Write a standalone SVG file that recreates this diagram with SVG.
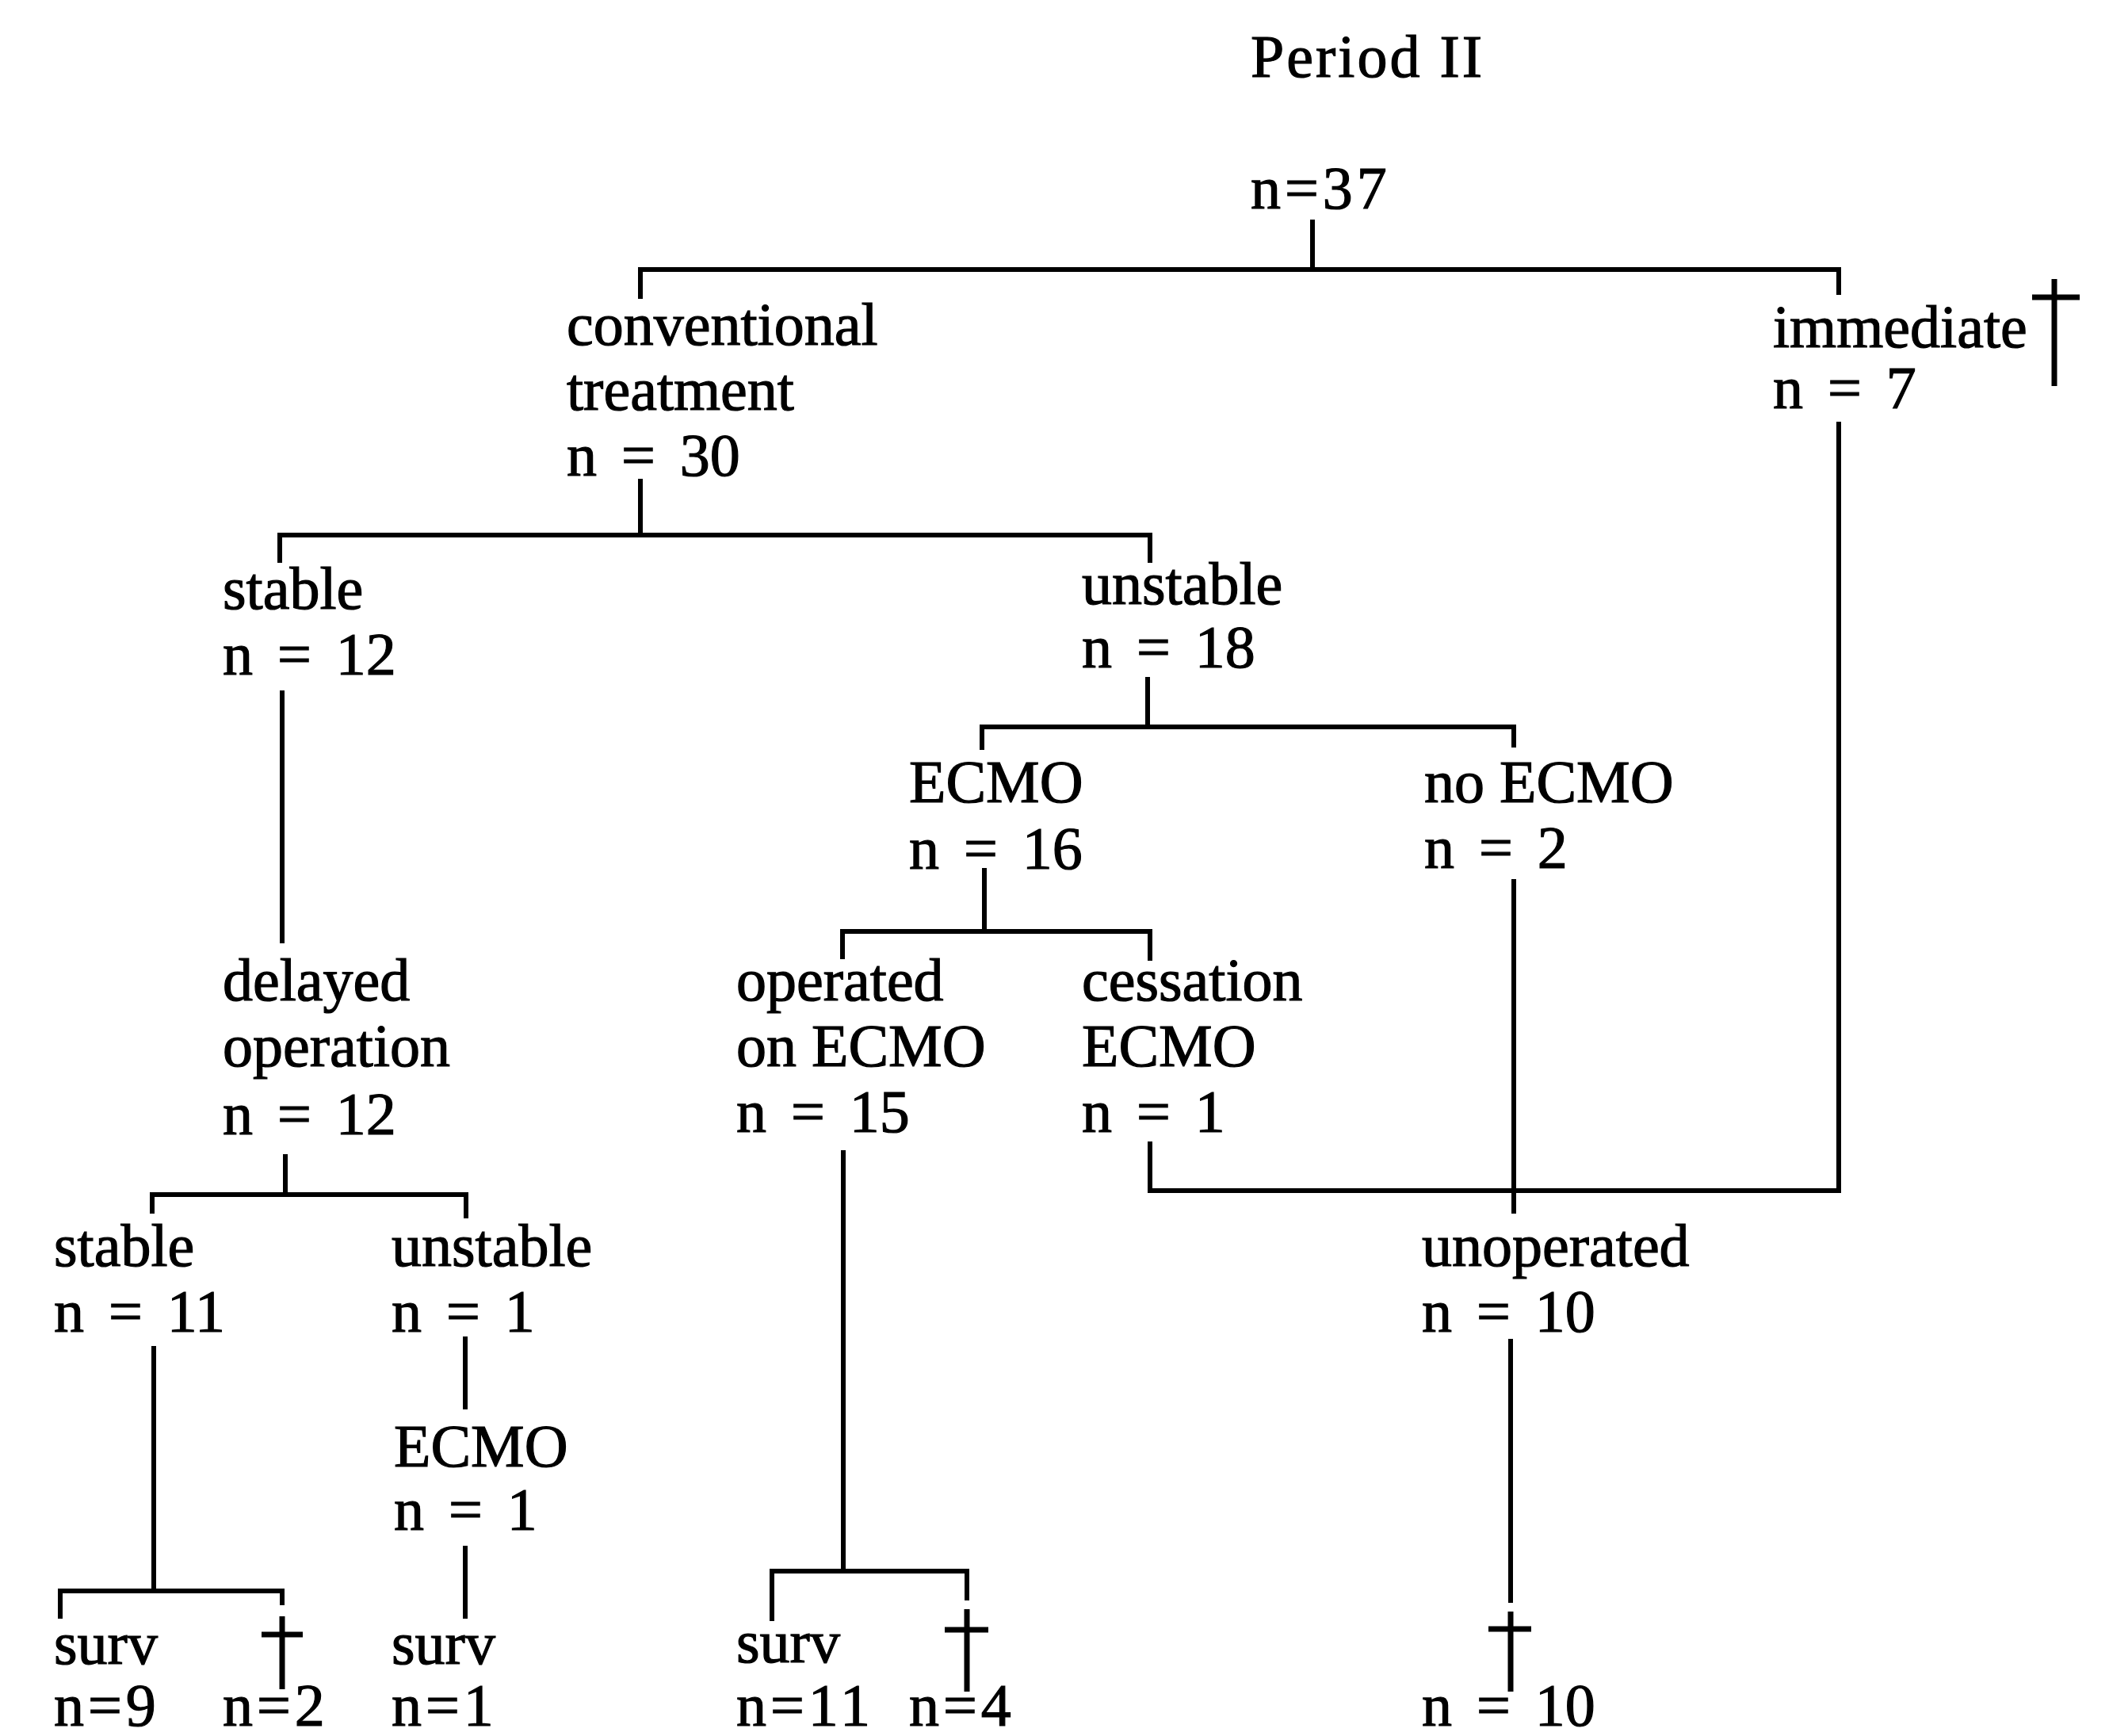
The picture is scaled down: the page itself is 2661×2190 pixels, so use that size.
<svg xmlns="http://www.w3.org/2000/svg" width="2661" height="2190" viewBox="0 0 2661 2190">
<style>
text{font-family:"Liberation Serif","Times New Roman",serif;font-size:76px;fill:#000;stroke:#000;stroke-width:1.2}
.w{word-spacing:12px}
.k{letter-spacing:5px}
.t{letter-spacing:3px}
.c{fill:none;stroke:#000;stroke-width:6;stroke-linecap:butt;stroke-linejoin:miter}
.d{fill:none;stroke:#000;stroke-width:7}
</style>
<rect width="2661" height="2190" fill="#fff"/>
<g id="title"><text class="t" x="1578" y="97">Period II</text></g>
<g id="connectors" class="c">
<path class="c" d="M1656,277 V340"/>
<path class="c" d="M808,377 V340 H2320 V372"/>
<path class="c" d="M808,604 V675"/>
<path class="c" d="M353,710 V675 H1451 V710"/>
<path class="c" d="M356,871 V1190"/>
<path class="c" d="M1448,854 V917"/>
<path class="c" d="M1239,946 V917 H1910 V943"/>
<path class="c" d="M1242,1095 V1175"/>
<path class="c" d="M1063,1210 V1175 H1451 V1212"/>
<path class="c" d="M360,1456 V1507"/>
<path class="c" d="M192,1531 V1507 H588 V1537"/>
<path class="c" d="M194,1698 V2007"/>
<path class="c" d="M76,2042 V2007 H356 V2025"/>
<path class="c" d="M587,1686 V1778"/>
<path class="c" d="M587,1950 V2042"/>
<path class="c" d="M1064,1451 V1982"/>
<path class="c" d="M974,2045 V1982 H1220 V2019"/>
<path class="c" d="M1451,1440 V1502 H2320 V532"/>
<path class="c" d="M1910,1109 V1531"/>
<path class="c" d="M1906,1689 V2022"/>
</g>
<g id="n37"><text class="k" x="1578" y="263">n=37</text></g>
<g id="conventional"><text x="715" y="435">conventional</text><text x="715" y="517">treatment</text><text class="w" x="715" y="600">n = 30</text></g>
<g id="immediate"><text x="2237" y="438">immediate</text><text class="w" x="2237" y="515">n = 7</text><path class="d" d="M2592,352 V487 M2564,375 H2624"/></g>
<g id="stable1"><text x="281" y="768">stable</text><text class="w" x="281" y="851">n = 12</text></g>
<g id="unstable1"><text x="1365" y="762">unstable</text><text class="w" x="1365" y="842">n = 18</text></g>
<g id="ecmo1"><text x="1147" y="1012">ECMO</text><text class="w" x="1147" y="1096">n = 16</text></g>
<g id="noecmo"><text x="1797" y="1012">no ECMO</text><text class="w" x="1797" y="1095">n = 2</text></g>
<g id="delayed"><text x="281" y="1262">delayed</text><text x="281" y="1345">operation</text><text class="w" x="281" y="1431">n = 12</text></g>
<g id="operated"><text x="929" y="1262">operated</text><text x="929" y="1345">on ECMO</text><text class="w" x="929" y="1428">n = 15</text></g>
<g id="cessation"><text x="1365" y="1262">cessation</text><text x="1365" y="1345">ECMO</text><text class="w" x="1365" y="1428">n = 1</text></g>
<g id="stable2"><text x="68" y="1597">stable</text><text class="w" x="68" y="1680">n = 11</text></g>
<g id="unstable2"><text x="494" y="1597">unstable</text><text class="w" x="494" y="1680">n = 1</text></g>
<g id="ecmo2"><text x="497" y="1850">ECMO</text><text class="w" x="497" y="1930">n = 1</text></g>
<g id="unoperated"><text x="1794" y="1597">unoperated</text><text class="w" x="1794" y="1680">n = 10</text></g>
<g id="surv1"><text x="68" y="2099">surv</text><text class="k" x="68" y="2177">n=9</text></g>
<g id="died1"><path class="d" d="M356,2039 V2131 M330,2062 H382"/><text class="k" x="281" y="2177">n=2</text></g>
<g id="surv2"><text x="494" y="2099">surv</text><text class="k" x="494" y="2177">n=1</text></g>
<g id="surv3"><text x="929" y="2097">surv</text><text class="k" x="929" y="2177">n=11</text></g>
<g id="died3"><path class="d" d="M1220,2030 V2134 M1192,2056 H1247"/><text class="k" x="1147" y="2177">n=4</text></g>
<g id="died4"><path class="d" d="M1906,2033 V2134 M1878,2055 H1932"/><text class="w" x="1794" y="2177">n = 10</text></g>
</svg>
